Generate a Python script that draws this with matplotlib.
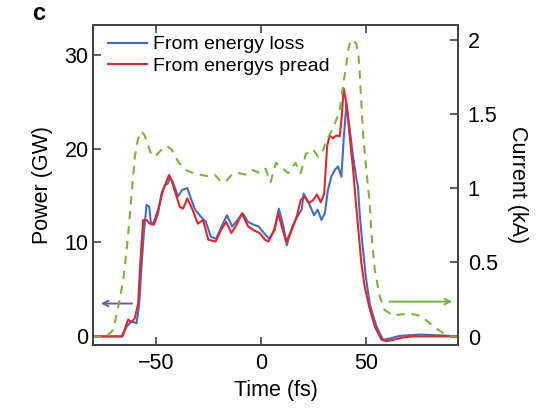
import matplotlib.pyplot as plt

plt.rcParams['font.family'] = ['Liberation Sans', 'DejaVu Sans']

# power from energy loss (GW) vs time (fs)
t_loss = [-80, -66.3, -64, -61.6, -59.2, -58, -56.8, -55.7, -54.4, -53.1, -52.4, -50.8,
          -48.9, -47.3, -45.7, -44.1, -43.3, -41.7, -39.4, -37.5, -35, -33, -31.3,
          -28.7, -26.2, -23.7, -21.2, -18.7, -16.1, -13.6, -11.1, -8.6, -6.1, -3.5, -1,
          1.5, 4, 6.6, 8.6, 10.8, 12.4, 15, 17.5, 19.5, 20.4, 22.9, 25.4, 27.1, 28.9,
          30.5, 32, 33.6, 35.2, 36.8, 38.4, 39.5, 40.8, 42.4, 44, 45.6, 46.3, 47.1,
          48.4, 50, 51.9, 53.5, 55.1, 56.7, 58.3, 59.7, 62, 66, 76, 86, 95]
p_loss = [0, 0, 1.0, 1.6, 1.4, 3.2, 7.4, 11.0, 14.0, 13.8, 12.2, 11.9,
          13.1, 15.2, 16.1, 16.3, 17.0, 16.3, 14.9, 15.6, 15.8, 14.5, 13.5,
          12.8, 12.2, 10.6, 10.4, 11.7, 12.9, 11.7, 12.4, 13.1, 12.2, 11.9, 11.7,
          11.0, 10.4, 11.3, 13.6, 11.7, 9.7, 11.7, 12.8, 13.5, 15.2, 14.2, 12.9, 13.5, 12.4,
          13.1, 15.6, 17.0, 17.7, 18.1, 17.0, 21.0, 24.8, 22.0, 19.1, 16.7, 16.0, 13.1,
          9.9, 6.4, 3.5, 2.2, 1.1, 0.3, -0.35, -0.3, -0.2, 0.05, 0.2, 0.1, 0]

# power from energy spread (GW) vs time (fs)
t_spread = [-80, -66, -65.7, -63.2, -61.6, -60, -58.4, -57.3, -56, -54.4, -52.9, -51.3,
            -48.9, -46.5, -43.7, -42.5, -40.1, -38.6, -37, -35, -32.5, -30, -27.5, -25,
            -21.5, -19, -16.5, -14, -11.5, -9, -6, -3.3, -0.5, 2, 3.7, 6.3, 8.3, 10.5,
            12.1, 14.7, 17.2, 19, 20.7, 23, 24.9, 26.7, 28.6, 30.2, 31.6, 32.8, 34.4, 36,
            37.6, 38.6, 39.5, 40.8, 42.4, 44, 45.6, 46.8, 47.9, 49.5, 51.6, 54.3, 57.5,
            59.7, 62.5, 67, 72, 95]
p_spread = [0, 0, 0.1, 1.8, 1.5, 1.95, 3.5, 8.1, 12.4, 12.4, 12.0, 11.9,
            13.5, 15.6, 17.2, 16.6, 14.9, 13.8, 13.6, 14.7, 13.5, 12.0, 12.4, 10.3,
            10.1, 11.3, 12.2, 11.0, 11.9, 13.1, 11.7, 11.3, 11.0, 10.3, 10.1, 11.3, 13.1, 11.3,
            10.1, 11.3, 12.8, 14.5, 14.9, 14.2, 14.5, 15.1, 14.3, 15.2, 20.2, 21.4, 21.1, 21.4,
            21.3, 23.5, 26.4, 24.8, 21.3, 17.7, 13.5, 10.6, 7.8, 5.3, 3.2, 1.06, -0.35,
            -0.5, -0.4, -0.15, 0, 0]

# current (kA) vs time (fs)
t_cur = [-80, -73.5, -70.3, -67.9, -65.5, -63.9, -62.4, -61.1, -60, -58.5, -57, -55.5,
         -54, -52.5, -50.5, -48.5, -46.5, -44.5, -42.5, -41, -39, -35.5, -32, -29, -25.5,
         -22, -18.8, -16.3, -13.8, -10.4, -7, -3.7, -0.3, 2.2, 4.7, 7.2, 9.8, 13.1, 16.5,
         19, 21.5, 24.9, 27.4, 29.9, 31.3, 34.4, 36, 37.6, 39.5, 40.5, 41.5, 42.5, 44,
         45.5, 46.5, 47.1, 47.9, 48.8, 50.3, 51.9, 52.7, 54.3, 56.7, 59, 63, 67, 72.5,
         76, 80.5, 84, 88.4, 91, 95]
i_cur = [0, 0, 0.045, 0.20, 0.38, 0.58, 0.81, 1.03, 1.21, 1.33, 1.38, 1.36,
         1.30, 1.24, 1.21, 1.24, 1.27, 1.28, 1.26, 1.22, 1.17, 1.12, 1.10, 1.09, 1.08,
         1.09, 1.04, 1.05, 1.09, 1.10, 1.09, 1.12, 1.10, 1.13, 1.04, 1.17, 1.14, 1.10, 1.17,
         1.10, 1.23, 1.26, 1.21, 1.26, 1.32, 1.40, 1.46, 1.52, 1.72, 1.80, 1.92, 1.98, 2.0,
         1.97, 1.90, 1.79, 1.57, 1.35, 1.12, 0.90, 0.70, 0.45, 0.27, 0.18, 0.14, 0.15, 0.15,
         0.14, 0.09, 0.05, 0.01, 0, 0]

blue = '#3f6fc2'
red = '#e5242b'
green = '#7cb342'
spine = '#444444'

fig = plt.figure(figsize=(5.46, 4.11), dpi=100)
ax = fig.add_axes([0.170, 0.161, 0.669, 0.779])
ax2 = ax.twinx()

ax.plot(t_loss, p_loss, color=blue, lw=1.5, label='From energy loss')
ax.plot(t_spread, p_spread, color=red, lw=1.5, label='From energys pread')
ax2.plot(t_cur, i_cur, color=green, lw=1.5, ls=(0, (4, 3.2)))

ax.set_xlim(-80, 94)
ax.set_ylim(-0.9, 33.2)
ax2.set_ylim(-0.056, 2.10)
ax.set_xticks([-50, 0, 50])
ax.set_xticklabels(['\u221250', '0', '50'])
ax.set_yticks([0, 10, 20, 30])
ax2.set_yticks([0, 0.5, 1, 1.5, 2])
ax2.set_yticklabels(['0', '0.5', '1', '1.5', '2'])

ax.tick_params(axis='both', direction='in', length=6, width=1.2, color=spine,
               labelsize=15.5, top=True)
ax.tick_params(axis='x', pad=6)
ax.tick_params(axis='y', left=True, right=False, pad=3)
ax2.tick_params(axis='y', direction='in', length=6, width=1.2, color=spine,
                labelsize=15.5, pad=7)
for a in (ax, ax2):
    for s in a.spines.values():
        s.set_color(spine)
        s.set_linewidth(1.4)

ax.set_xlabel('Time (fs)', fontsize=15.5, labelpad=4)
ax.set_ylabel('Power (GW)', fontsize=15.5, labelpad=8)
ax2.set_ylabel('Current (kA)', fontsize=15.5, rotation=-90, labelpad=22)

ax.legend(loc='upper left', frameon=False, fontsize=14, handlelength=2.0,
          handletextpad=0.35, borderaxespad=0, borderpad=0, labelspacing=0.2,
          bbox_to_anchor=(0.041, 0.965))

# direction arrows
ax.annotate('', xy=(-77.5, 3.5), xytext=(-60, 3.5),
            arrowprops=dict(arrowstyle='->', color='#6a5f9e', lw=1.4))
ax2.annotate('', xy=(92.5, 0.235), xytext=(60, 0.235),
             arrowprops=dict(arrowstyle='->', color='#6db33f', lw=1.4))

fig.text(0.058, 0.952, 'c', fontsize=17, fontweight='bold', va='baseline')

fig.savefig('out.png', dpi=100)
